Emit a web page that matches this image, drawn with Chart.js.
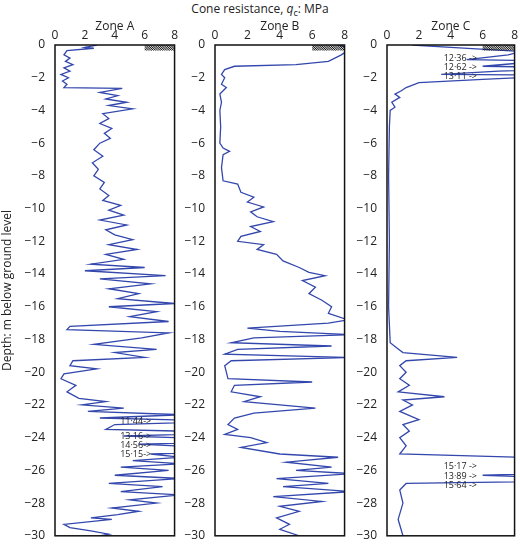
<!DOCTYPE html>
<html><head><meta charset="utf-8">
<script src="https://cdn.jsdelivr.net/npm/chart.js@4"></script>
<style>
body{margin:0;background:#fff;width:520px;height:545px;position:relative;overflow:hidden;font-family:"Open Sans",sans-serif}
.c{position:absolute;top:0;height:545px}
#t{position:absolute;top:0px;left:0;width:520px;text-align:center;font-size:12px;color:#222}
</style></head><body>
<div id="t">Cone resistance, <i>q</i><sub style="font-size:9px">c</sub>: MPa</div>
<div class="c" style="left:0;width:180px"><canvas id="a"></canvas></div>
<div class="c" style="left:180px;width:170px"><canvas id="b"></canvas></div>
<div class="c" style="left:350px;width:170px"><canvas id="cc"></canvas></div>
<script>
const zones=["Zone A","Zone B","Zone C"];
const xTicks=[0,2,4,6,8];
const yTicks=[0,-2,-4,-6,-8,-10,-12,-14,-16,-18,-20,-22,-24,-26,-28,-30];
const zoneA=[[2.8,0],[2.0,-0.15],[2.6,-0.2],[0.8,-0.35],[0.6,-0.6],[1.0,-0.8],[0.7,-1.0],[1.2,-1.2],[0.6,-1.4],[1.0,-1.6],[0.4,-1.8],[0.9,-2.0],[0.5,-2.2],[0.8,-2.4],[0.6,-2.6],[4.5,-2.65],[3.0,-2.9],[4.2,-3.1],[3.4,-3.3],[4.8,-3.5],[3.6,-3.7],[5.2,-3.9],[3.2,-4.2],[3.6,-4.5],[3.0,-4.8],[3.8,-5.1],[3.3,-5.4],[3.7,-5.7],[3.0,-6.0],[2.6,-6.4],[3.2,-6.8],[2.5,-7.2],[2.9,-7.6],[2.6,-8.0],[3.3,-8.4],[3.0,-8.8],[3.6,-9.2],[3.2,-9.5],[4.4,-9.8],[3.6,-10.1],[4.6,-10.4],[3.0,-10.7],[4.8,-11.0],[3.4,-11.3],[4.0,-11.6],[5.2,-11.9],[3.6,-12.2],[5.5,-12.5],[3.4,-12.8],[4.6,-13.1],[2.4,-13.4],[6.0,-13.6],[2.0,-13.8],[7.4,-14.1],[3.0,-14.3],[6.4,-14.6],[3.6,-14.9],[5.6,-15.2],[4.2,-15.5],[8.0,-15.8],[3.6,-16.0],[6.8,-16.3],[5.0,-16.6],[7.6,-16.9],[1.0,-17.2],[0.8,-17.4],[7.6,-17.6],[5.8,-17.9],[2.6,-18.3],[6.8,-18.6],[4.0,-18.8],[6.0,-19.1],[1.2,-19.3],[1.0,-19.6],[2.8,-19.8],[0.6,-20.1],[0.4,-20.4],[1.4,-20.8],[0.8,-21.2],[1.6,-21.6],[3.4,-21.8],[1.8,-22.0],[4.6,-22.2],[2.2,-22.4],[8.5,-22.6],[3.0,-22.8],[11.44,-23.0],[4.0,-23.2],[3.4,-23.5],[13.16,-23.7],[4.6,-23.9],[14.56,-24.2],[5.6,-24.4],[15.15,-24.8],[6.4,-25.0],[8.4,-25.2],[5.2,-25.4],[8.4,-25.6],[4.4,-25.8],[7.6,-26.0],[4.0,-26.3],[8.4,-26.5],[3.6,-26.8],[7.2,-27.0],[4.4,-27.3],[8.4,-27.5],[5.0,-27.8],[6.8,-28.0],[3.8,-28.3],[5.6,-28.5],[4.2,-28.7],[2.4,-28.9],[3.8,-29.0],[0.6,-29.3],[1.0,-29.5],[2.4,-29.7],[3.6,-29.9],[3.0,-30]];
const zoneB=[[7.6,0],[8.4,-0.2],[7.8,-0.6],[7.0,-1.0],[5,-1.2],[1.2,-1.3],[0.6,-1.5],[0.4,-1.8],[0.6,-2.0],[0.4,-2.4],[0.7,-2.6],[0.3,-3.0],[0.4,-3.5],[0.3,-4.0],[0.35,-5.0],[0.3,-6.0],[0.5,-6.3],[0.9,-6.5],[0.5,-6.7],[0.4,-7.5],[0.5,-8.3],[1.4,-8.5],[1.6,-9.0],[2.4,-9.3],[2.0,-9.6],[3.0,-9.9],[2.2,-10.2],[2.6,-10.5],[3.6,-10.8],[2.2,-11.1],[2.8,-11.4],[1.6,-11.7],[1.4,-12.0],[3.0,-12.2],[2.6,-12.5],[3.8,-12.8],[4.2,-13.2],[5.2,-13.6],[5.8,-13.9],[6.8,-14.1],[5.4,-14.4],[6.2,-14.8],[5.8,-15.2],[6.6,-15.6],[7.2,-16.0],[7.0,-16.4],[8.2,-16.8],[7.0,-17.0],[2.0,-17.3],[4.0,-17.5],[8.4,-17.7],[2.4,-17.9],[1.0,-18.2],[7.2,-18.4],[1.4,-18.6],[0.6,-18.9],[8.4,-19.1],[1.0,-19.3],[0.6,-19.6],[0.7,-20.0],[0.8,-20.4],[6.0,-20.6],[1.2,-20.8],[1.0,-21.2],[2.8,-21.5],[1.8,-21.8],[6.2,-22.2],[2.4,-22.5],[1.2,-22.8],[0.8,-23.2],[1.4,-23.5],[0.6,-23.8],[2.2,-24.0],[3.2,-24.3],[1.6,-24.6],[4.0,-25.0],[7.6,-25.2],[4.4,-25.5],[7.2,-25.8],[5.0,-26.0],[8.4,-26.2],[3.8,-26.5],[7.0,-26.8],[4.2,-27.0],[8.4,-27.3],[3.6,-27.6],[6.6,-27.9],[4.0,-28.2],[5.2,-28.5],[3.8,-28.9],[4.6,-29.3],[4.0,-29.6],[5.2,-30]];
const zoneC=[[1.6,0],[4,-0.15],[8.4,-0.4],[7.6,-0.6],[5.0,-0.9],[12.36,-1.0],[8.4,-1.1],[6.0,-1.3],[12.62,-1.4],[7.0,-1.6],[3.4,-1.8],[13.11,-1.85],[8.4,-2.0],[6,-2.1],[2,-2.3],[1.2,-2.6],[0.9,-2.8],[0.5,-3.0],[0.8,-3.2],[0.3,-3.5],[0.5,-3.8],[0.2,-4.0],[0.15,-5],[0.1,-8],[0.15,-12],[0.1,-16],[0.2,-18.2],[0.6,-18.5],[1.0,-18.8],[4.4,-19.1],[1.2,-19.3],[0.8,-19.6],[1.2,-20.0],[0.8,-20.4],[1.4,-20.8],[0.7,-21.2],[3.6,-21.5],[1.0,-21.7],[1.6,-22.0],[0.8,-22.4],[2.0,-22.9],[1.0,-23.2],[1.4,-23.6],[0.8,-24.0],[1.2,-24.5],[0.8,-25.0],[8.4,-25.2],[15.17,-25.6],[8.4,-25.9],[13.89,-26.1],[6.0,-26.3],[15.64,-26.6],[1.2,-26.8],[0.8,-27.2],[1.0,-28],[0.7,-29],[1.0,-30]];
const notesA=[["11·44->",5.4,-23.0],["13·16->",5.4,-23.9],["14·56->",5.4,-24.5],["15·15->",5.4,-25.0]];
const notesB=[];
const notesC=[["12·36 ->",4.6,-0.85],["12·62 ->",4.6,-1.4],["13·11 ->",4.6,-1.9],["15·17 ->",4.6,-25.75],["13·89 ->",4.6,-26.35],["15·64 ->",4.6,-26.95]];
const font='"Open Sans", sans-serif';
const deco={id:'deco',afterDatasetsDraw(ch){
  const {ctx,chartArea:a,scales:{x,y}}=ch;
  ctx.save();
  const x0=x.getPixelForValue(6),x1=x.getPixelForValue(8),y0=y.getPixelForValue(0),y1=y.getPixelForValue(-0.35);
  ctx.beginPath();ctx.rect(x0,y0,x1-x0,y1-y0);ctx.clip();
  ctx.strokeStyle='#111';ctx.lineWidth=1;
  for(let k=x0-20;k<x1+5;k+=1.8){ctx.beginPath();ctx.moveTo(k,y0);ctx.lineTo(k+(y1-y0),y1);ctx.stroke();}
  ctx.restore();ctx.save();
  ctx.strokeStyle='#111';ctx.lineWidth=1.5;ctx.strokeRect(a.left,a.top,a.right-a.left,a.bottom-a.top);
  ctx.fillStyle='#222';ctx.font='9px '+font;ctx.textAlign='center';ctx.textBaseline='middle';
  for(const [t,vx,vy] of ch.options.plugins.deco.notes) ctx.fillText(t,x.getPixelForValue(vx),y.getPixelForValue(vy));
  ctx.font='12px '+font;
  ctx.fillText(ch.options.plugins.deco.zone,(a.left+a.right)/2,27);
  ctx.restore();
}};
function make(id,data,zone,notes,yw,showTitle){
  new Chart(document.getElementById(id),{type:'scatter',
    data:{datasets:[{data:data.map(p=>({x:p[0],y:p[1]})),showLine:true,borderColor:'#3347ad',borderWidth:1.3,pointRadius:0,tension:0}]},
    options:{responsive:true,maintainAspectRatio:false,animation:false,
      layout:{padding:{top:29,right:3,bottom:7,left:0}},
      plugins:{legend:{display:false},tooltip:{enabled:false},deco:{notes,zone}},
      scales:{
        x:{type:'linear',position:'top',min:0,max:8,afterBuildTicks:s=>{s.ticks=xTicks.map(v=>({value:v}))},
          grid:{display:false,drawTicks:false},border:{display:false},
          ticks:{color:'#222',font:{family:font,size:12},padding:2,maxRotation:0},
          afterFit:s=>{s.height=16}},
        y:{type:'linear',min:-30,max:0,afterBuildTicks:s=>{s.ticks=yTicks.map(v=>({value:v}))},
          grid:{display:false},border:{display:false},
          ticks:{color:'#222',font:{family:font,size:12},padding:2,callback:v=>v<0?'\u2212'+Math.abs(v):''+v},
          title:{display:showTitle,text:'Depth: m below ground level',color:'#222',font:{family:font,size:12},padding:0},
          afterFit:s=>{s.width=yw}}
      }},plugins:[deco]});
}
make('a',zoneA,zones[0],notesA,55,true);
make('b',zoneB,zones[1],notesB,35,false);
make('cc',zoneC,zones[2],notesC,37,false);
</script></body></html>
